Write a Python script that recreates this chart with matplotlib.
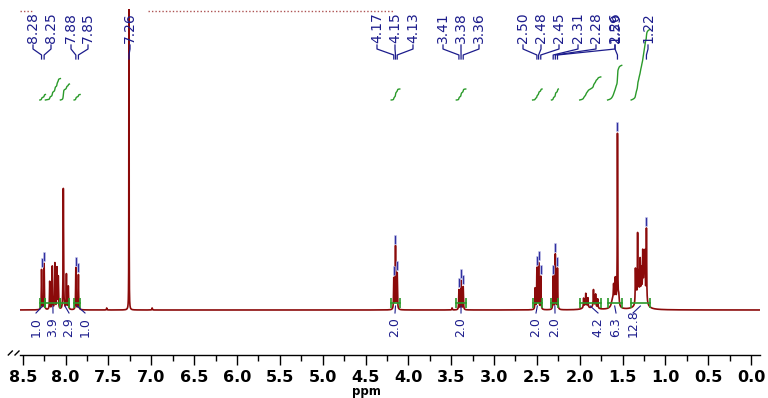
import numpy as np
import matplotlib.pyplot as plt
from matplotlib.ticker import MultipleLocator, FormatStrFormatter

# peaks: position (ppm), height above baseline, half width (ppm)
pk_ppm = [8.28, 8.25, 8.185, 8.155, 8.125, 8.10, 8.085, 8.026, 7.99, 7.968, 7.88, 7.85,
          7.52, 7.26, 6.99,
          4.17, 4.15, 4.13,
          3.49, 3.41, 3.385, 3.36,
          2.52, 2.50, 2.48, 2.455,
          2.31, 2.285, 2.26,
          1.955, 1.93, 1.905, 1.84, 1.815, 1.79, 1.93, 1.83,
          1.62, 1.605, 1.585, 1.56, 1.545, 1.59,
          1.35, 1.34, 1.325, 1.31, 1.295, 1.28, 1.265, 1.25, 1.24, 1.222, 1.30, 1.25]
pk_h = [40, 46, 28, 43, 46, 41, 32, 121, 35, 23, 42, 35,
        2, 1000, 2,
        31, 63, 36,
        2, 20, 29, 23,
        21, 41, 46, 33,
        33, 55, 41,
        9, 12, 9, 16, 12, 9, 4, 4,
        6, 16, 22, 170, 10, 8,
        34, 22, 66, 24, 36, 26, 40, 26, 38, 72, 10, 18]
pk_w = [0.003] * 12 + [0.003, 0.0008, 0.003] + [0.003] * 3 + [0.003] * 4 + [0.003] * 4 \
    + [0.003] * 3 + [0.003] * 6 + [0.03, 0.03] \
    + [0.012, 0.004, 0.004, 0.0025, 0.006, 0.03] \
    + [0.003] * 10 + [0.04, 0.02]

# picked peak labels (top of the chart)
pick_ppm = [8.28, 8.25, 7.88, 7.85, 7.26, 4.17, 4.15, 4.13, 3.41, 3.385, 3.36,
            2.50, 2.48, 2.455, 2.31, 2.285, 2.26, 1.56, 1.222]
pick_text = ['8.28', '8.25', '7.88', '7.85', '7.26', '4.17', '4.15', '4.13', '3.41', '3.38', '3.36',
             '2.50', '2.48', '2.45', '2.31', '2.28', '2.26', '1.59', '1.22']
pick_label_px = [33, 51, 71, 88, 130, 377, 395, 413, 443, 461, 479,
                 523, 541, 559, 578, 596, 615, 615, 648]

# integrals: region (ppm), value, label position
int_hi = [8.30, 8.235, 8.06, 7.90, 4.20, 3.44, 2.55, 2.33, 2.00, 1.675, 1.40]
int_lo = [8.235, 8.06, 7.955, 7.83, 4.10, 3.33, 2.44, 2.25, 1.755, 1.51, 1.185]
int_val = [1.0, 3.9, 2.9, 1.0, 2.0, 2.0, 2.0, 2.0, 4.2, 6.3, 12.8]
int_label_px = [36, 53, 69, 85, 395, 461, 536, 555, 598, 616, 633]

# clipped solvent trace along the top edge
top_ranges = [(8.53, 8.38), (7.04, 4.18)]

RED = '#8b0a0a'
BLUE = '#1c1c8c'
GREEN = '#2a9a2a'


def px2ppm(px):
    return 8.5 - (px - 22.7) / 85.7


x = np.linspace(8.6, -0.15, 35001)
y = np.zeros_like(x)
for p, h, w in zip(pk_ppm, pk_h, pk_w):
    y += h * w ** 2 / ((x - p) ** 2 + w ** 2)

fig = plt.figure(figsize=(7.68, 3.98), dpi=100)
ax = fig.add_axes([20 / 768, 43 / 398, 740 / 768, 346 / 398])
ax.set_xlim(px2ppm(20), px2ppm(760))
ax.set_ylim(-45, 301)

ax.plot(x, y, color=RED, lw=1.2)
for a, b in top_ranges:
    ax.plot([a, b], [299.5, 299.5], color=RED, lw=1.0, ls=(0, (1, 1.5)), alpha=0.7)

# integral curves and bars
for hi, lo, v, lpx in zip(int_hi, int_lo, int_val, int_label_px):
    m = (x <= hi) & (x >= lo)
    c = np.cumsum(y[m])
    c = c / c[-1]
    ax.plot(x[m], 210 + v * 5.5 * c, color=GREEN, lw=1.0)
    ax.plot([hi, lo], [7, 7], color=GREEN, lw=1.2, marker='|', ms=7, mew=1.2)
    xc = (hi + lo) / 2
    ax.plot([xc, px2ppm(lpx)], [4, -3], color=BLUE, lw=0.8)
    ax.text(px2ppm(lpx), -27, '%.1f' % v, rotation=90, ha='center', va='bottom',
            color=BLUE, fontsize=9)

# peak labels with connectors and pick markers
for p, t, lpx in zip(pick_ppm, pick_text, pick_label_px):
    lx = px2ppm(lpx)
    ax.text(lx, 267, t, rotation=90, ha='center', va='bottom', color=BLUE,
            fontsize=10, clip_on=False)
    ax.plot([lx, lx, p, p], [265, 261, 255, 251], color=BLUE, lw=0.9, clip_on=False)
    top = y[np.abs(x - p) < 0.004].max()
    if top < 280:
        ax.plot([p, p], [top + 3, top + 10], color='#a8a8dc', lw=1.8)
        ax.plot([p, p], [top + 3, top + 10], color='#3030a0', lw=0.8)

for s in ['top', 'left', 'right']:
    ax.spines[s].set_visible(False)
ax.spines['bottom'].set_linewidth(1.0)
ax.set_yticks([])
ax.xaxis.set_major_locator(MultipleLocator(0.5))
ax.xaxis.set_minor_locator(MultipleLocator(0.25))
ax.xaxis.set_major_formatter(FormatStrFormatter('%.1f'))
ax.tick_params(axis='x', which='major', length=7, width=1.0, pad=4, labelsize=11.5)
ax.tick_params(axis='x', which='minor', length=4, width=1.0)
for lab in ax.get_xticklabels():
    lab.set_fontweight('bold')

fig.text(366 / 768, 1 - 391 / 398, 'ppm', ha='center', va='center', fontsize=8.5,
         fontweight='bold')

# axis break marks
for x0 in [8.3, 15.0]:
    fig.add_artist(plt.Line2D([x0 / 768, (x0 + 4) / 768], [43 / 398, 47 / 398],
                              color='black', lw=1.0))

fig.savefig('out.png', dpi=100)
